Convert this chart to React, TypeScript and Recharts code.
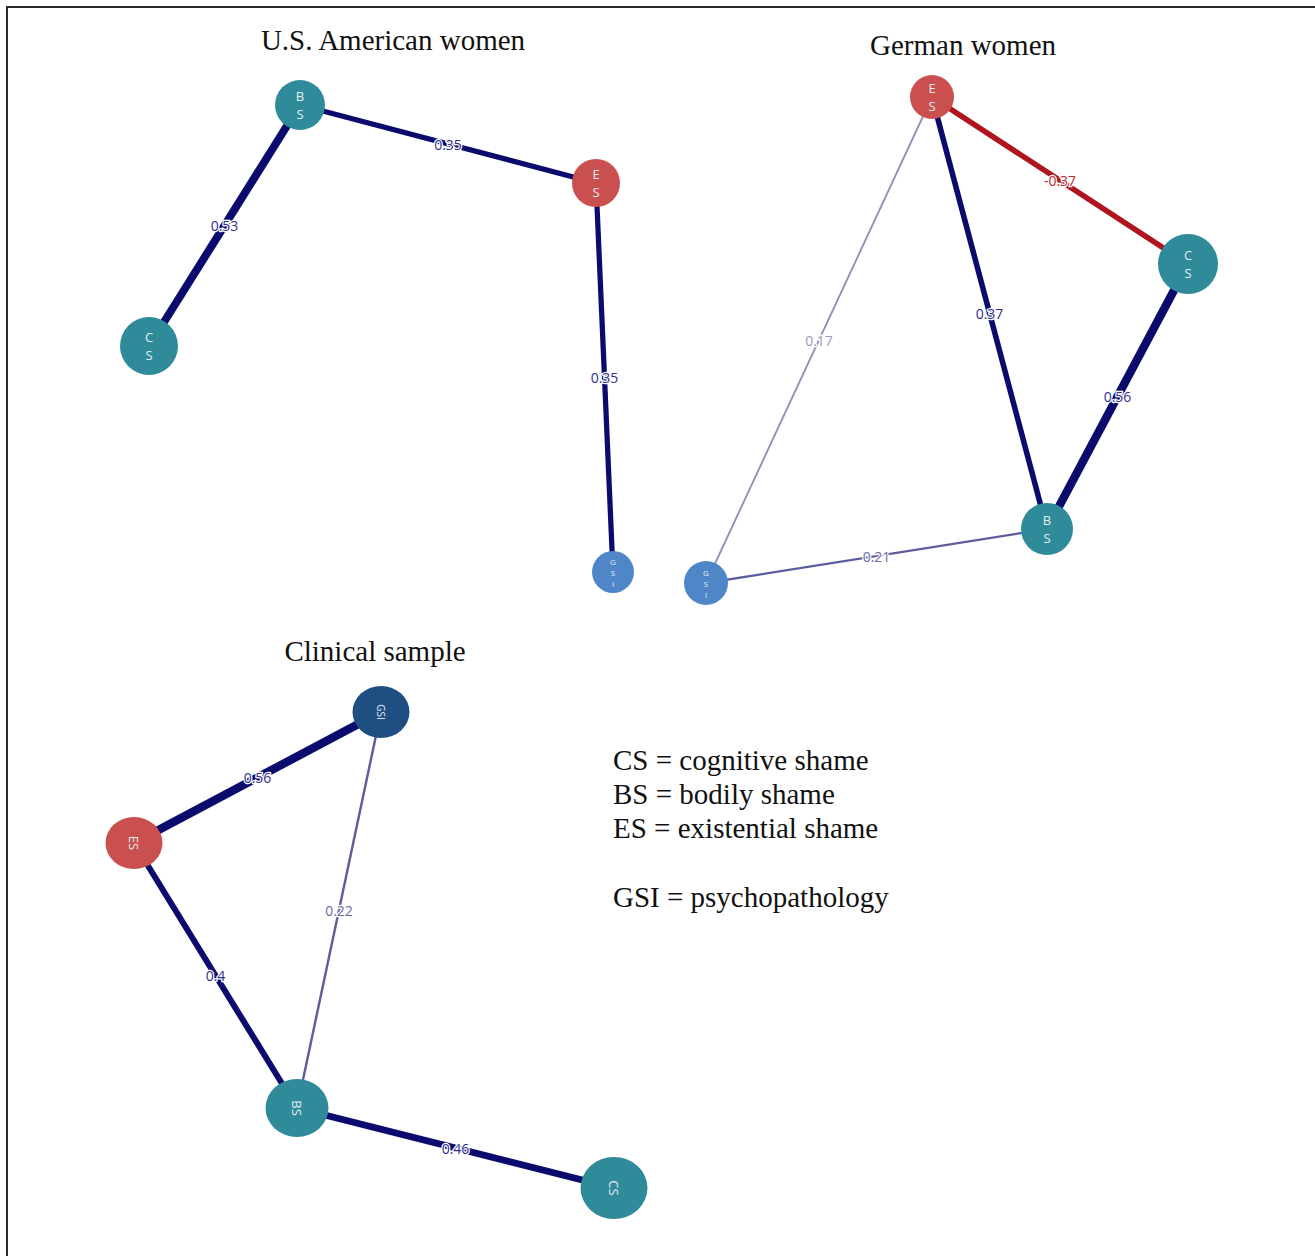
import React from 'react'
import { ScatterChart, Scatter, XAxis, YAxis } from 'recharts'

const W = 1315
const H = 1256

type Node = { id: string; x: number; y: number }
type Edge = { from: string; to: string; w: number }

// node centres (page pixels)
const usNodes: Node[] = [
  { id: 'BS', x: 300, y: 105 },
  { id: 'ES', x: 596, y: 183 },
  { id: 'CS', x: 149, y: 346 },
  { id: 'GSI', x: 613, y: 572 },
]
const usEdges: Edge[] = [
  { from: 'BS', to: 'CS', w: 0.53 },
  { from: 'BS', to: 'ES', w: 0.35 },
  { from: 'ES', to: 'GSI', w: 0.35 },
]

const deNodes: Node[] = [
  { id: 'ES', x: 932, y: 97 },
  { id: 'CS', x: 1188, y: 264 },
  { id: 'BS', x: 1047, y: 529 },
  { id: 'GSI', x: 706, y: 583 },
]
const deEdges: Edge[] = [
  { from: 'ES', to: 'CS', w: -0.37 },
  { from: 'ES', to: 'BS', w: 0.37 },
  { from: 'CS', to: 'BS', w: 0.56 },
  { from: 'ES', to: 'GSI', w: 0.17 },
  { from: 'GSI', to: 'BS', w: 0.21 },
]

const clNodes: Node[] = [
  { id: 'GSI', x: 381, y: 712 },
  { id: 'ES', x: 134, y: 843 },
  { id: 'BS', x: 297, y: 1108 },
  { id: 'CS', x: 614, y: 1188 },
]
const clEdges: Edge[] = [
  { from: 'ES', to: 'GSI', w: 0.56 },
  { from: 'ES', to: 'BS', w: 0.4 },
  { from: 'GSI', to: 'BS', w: 0.22 },
  { from: 'BS', to: 'CS', w: 0.46 },
]

const legendLines = ['CS = cognitive shame', 'BS = bodily shame', 'ES = existential shame']
const legendExtra = 'GSI = psychopathology'

// node sizes per panel
const radii: Record<string, Record<string, number>> = {
  us: { BS: 25, ES: 24, CS: 29, GSI: 21 },
  de: { ES: 22, CS: 30, BS: 26, GSI: 22 },
  cl: { GSI: 27, ES: 27, BS: 30, CS: 32 },
}

function nodeFill(panel: string, id: string) {
  if (id === 'ES') return '#c9504f'
  if (id === 'GSI') return panel === 'cl' ? '#1f4f82' : '#4e86c7'
  return '#2f8b9a'
}

function edgeColor(w: number) {
  if (w < 0) return '#b0141e'
  const a = Math.abs(w)
  if (a >= 0.3) return '#0b0b6e'
  if (a >= 0.2) return '#5d5d9d'
  return '#9090bb'
}

function labelColor(w: number) {
  if (w < 0) return '#c02a30'
  const a = Math.abs(w)
  if (a >= 0.3) return '#2e2e90'
  if (a >= 0.2) return '#6a6aa4'
  return '#9a9ac0'
}

function edgeWidth(w: number) {
  const a = Math.abs(w)
  return a >= 0.3 ? a * 15 : a * 11
}

function NodeShape(props: any) {
  const { cx, cy, payload } = props
  const panel = payload.panel
  const r = radii[panel][payload.id]
  const letters = payload.id.split('')
  const rotated = panel === 'cl'
  const three = letters.length === 3
  return (
    <g>
      {rotated ? (
        <ellipse cx={cx} cy={cy} rx={r + 1.5} ry={r - 1} fill={nodeFill(panel, payload.id)} />
      ) : (
        <circle cx={cx} cy={cy} r={r} fill={nodeFill(panel, payload.id)} />
      )}
      {rotated ? (
        <text
          x={cx}
          y={cy}
          transform={`rotate(90 ${cx} ${cy})`}
          textAnchor="middle"
          dominantBaseline="central"
          fontFamily="'Open Sans', sans-serif"
          fontSize={payload.id === 'GSI' ? 10 : 13}
          fill="#e6eef2"
        >
          {payload.id}
        </text>
      ) : (
        letters.map((ch: string, i: number) => {
          const step = three ? 11 : 18
          const off = (i - (letters.length - 1) / 2) * step
          return (
            <text
              key={i}
              x={cx}
              y={cy + off}
              textAnchor="middle"
              dominantBaseline="central"
              fontFamily="'Open Sans', sans-serif"
              fontSize={three ? 8 : 13}
              fill="#e6eef2"
            >
              {ch}
            </text>
          )
        })
      )}
    </g>
  )
}

function EdgeLabel(props: any) {
  const { cx, cy, payload } = props
  return (
    <text
      x={cx}
      y={cy}
      textAnchor="middle"
      dominantBaseline="central"
      fontFamily="'Open Sans', sans-serif"
      fontSize={14}
      fill={labelColor(payload.w)}
      stroke="#ffffff"
      strokeWidth={2.5}
      paintOrder="stroke"
    >
      {String(payload.w)}
    </text>
  )
}

const panels = [
  { key: 'us', nodes: usNodes, edges: usEdges },
  { key: 'de', nodes: deNodes, edges: deEdges },
  { key: 'cl', nodes: clNodes, edges: clEdges },
]

const serif = "'Liberation Serif', 'Times New Roman', serif"

const titleStyle: React.CSSProperties = {
  position: 'absolute',
  fontFamily: serif,
  fontSize: 29,
  lineHeight: '32px',
  color: '#111',
  whiteSpace: 'nowrap',
  transform: 'translateX(-50%)',
}

const legendStyle: React.CSSProperties = {
  position: 'absolute',
  left: 613,
  fontFamily: serif,
  fontSize: 29,
  lineHeight: '32px',
  color: '#111',
  whiteSpace: 'nowrap',
}

export default function App() {
  const find = (nodes: Node[], id: string) => nodes.find((n) => n.id === id)!

  return (
    <div style={{ position: 'relative', width: W, height: H, background: '#fff', overflow: 'hidden' }}>
      <style>{'body{margin:0}'}</style>
      <div
        style={{
          position: 'absolute',
          left: 6,
          top: 6,
          right: 0,
          bottom: 0,
          borderTop: '2px solid #2a2a2a',
          borderLeft: '2px solid #2a2a2a',
        }}
      />
      <ScatterChart width={W} height={H} margin={{ top: 0, right: 0, bottom: 0, left: 0 }}>
        <XAxis type="number" dataKey="x" domain={[0, W]} hide />
        <YAxis type="number" dataKey="y" domain={[0, H]} reversed hide />

        {/* edges */}
        {panels.map((p) =>
          p.edges.map((e, i) => {
            const a = find(p.nodes, e.from)
            const b = find(p.nodes, e.to)
            return (
              <Scatter
                key={`${p.key}-e-${i}`}
                data={[
                  { x: a.x, y: a.y },
                  { x: b.x, y: b.y },
                ]}
                line={{ stroke: edgeColor(e.w), strokeWidth: edgeWidth(e.w) }}
                shape={() => <g />}
                isAnimationActive={false}
              />
            )
          })
        )}

        {/* edge labels at midpoints */}
        {panels.map((p) => (
          <Scatter
            key={`${p.key}-lab`}
            data={p.edges.map((e) => {
              const a = find(p.nodes, e.from)
              const b = find(p.nodes, e.to)
              return { x: (a.x + b.x) / 2, y: (a.y + b.y) / 2, w: e.w }
            })}
            shape={EdgeLabel}
            isAnimationActive={false}
          />
        ))}

        {/* nodes */}
        {panels.map((p) => (
          <Scatter
            key={`${p.key}-n`}
            data={p.nodes.map((n) => ({ ...n, panel: p.key }))}
            shape={NodeShape}
            isAnimationActive={false}
          />
        ))}
      </ScatterChart>

      <div style={{ ...titleStyle, left: 393, top: 24 }}>U.S. American women</div>
      <div style={{ ...titleStyle, left: 963, top: 29 }}>German women</div>
      <div style={{ ...titleStyle, left: 375, top: 635 }}>Clinical sample</div>

      {legendLines.map((t, i) => (
        <div key={t} style={{ ...legendStyle, top: 744 + i * 34 }}>
          {t}
        </div>
      ))}
      <div style={{ ...legendStyle, top: 881 }}>{legendExtra}</div>
    </div>
  )
}
